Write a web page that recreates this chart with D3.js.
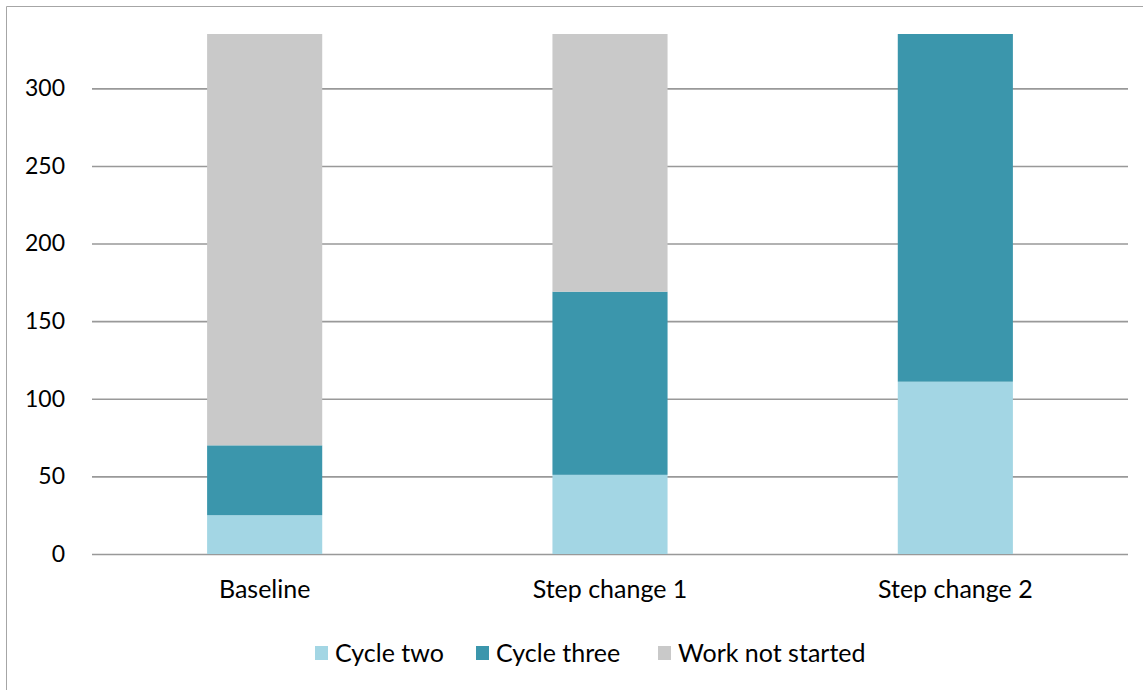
<!DOCTYPE html>
<html lang="en">
<head>
<meta charset="UTF-8">
<title>Cycle progress</title>
<script src="https://d3js.org/d3.v7.min.js"></script>
<style>
    body { margin: 0; padding: 0; background: #fff; }
    svg { display: block; }
    svg text { font-family: Lato, 'Open Sans', sans-serif; }
</style>
</head>
<body>
<div id="chart"></div>
<script>
    // data
    var categories = ["Baseline", "Step change 1", "Step change 2"];
    var seriesNames = ["Cycle two", "Cycle three", "Work not started"];
    var cycleTwo = [25, 51, 111];
    var cycleThree = [45, 118, 224];
    var workNotStarted = [265, 166, 0];
    var yTicks = [0, 50, 100, 150, 200, 250, 300];

    var colors = ["#a3d6e4", "#3b96ac", "#c9c9c9"];

    var width = 1143, height = 690;
    var plotLeft = 92, plotRight = 1128, plotTop = 34, plotBottom = 554;

    var rows = categories.map(function(c, i) {
        return { cat: c, "Cycle two": cycleTwo[i], "Cycle three": cycleThree[i], "Work not started": workNotStarted[i] };
    });
    var stacked = d3.stack().keys(seriesNames)(rows);

    var x = d3.scaleBand()
        .domain(categories)
        .range([plotLeft, plotRight])
        .paddingInner(2 / 3)
        .paddingOuter(1 / 3);

    var y = d3.scaleLinear()
        .domain([0, 335])
        .range([plotBottom, plotTop]);

    var svg = d3.select("#chart").append("svg")
        .attr("width", width)
        .attr("height", height);

    // frame (only left and top edges show in the picture)
    svg.append("path")
        .attr("d", "M6.5," + height + "V6.5H" + width)
        .attr("fill", "none")
        .attr("stroke", "#a6a6a6")
        .attr("stroke-width", 1);

    // gridlines + y labels
    var yAxis = svg.append("g")
        .attr("transform", "translate(" + plotLeft + ",0)")
        .call(d3.axisLeft(y).tickValues(yTicks).tickSize(-(plotRight - plotLeft)).tickPadding(27));
    yAxis.select(".domain").remove();
    yAxis.selectAll(".tick line").attr("stroke", "#999").attr("stroke-width", 1.6);
    yAxis.selectAll(".tick text")
        .attr("fill", "#000")
        .style("font-size", "23px");

    // bars
    svg.append("g").selectAll("g")
        .data(stacked)
        .enter().append("g")
        .attr("fill", function(d, i) { return colors[i]; })
        .selectAll("rect")
        .data(function(d) { return d; })
        .enter().append("rect")
        .attr("x", function(d) { return x(d.data.cat); })
        .attr("y", function(d) { return y(d[1]); })
        .attr("height", function(d) { return y(d[0]) - y(d[1]); })
        .attr("width", x.bandwidth());

    // x labels
    var xAxis = svg.append("g")
        .attr("transform", "translate(0," + plotBottom + ")")
        .call(d3.axisBottom(x).tickSize(0).tickPadding(26));
    xAxis.select(".domain").remove();
    xAxis.selectAll(".tick text")
        .attr("fill", "#000")
        .style("font-size", "25px");

    // legend
    var legendX = [315, 476, 658];
    var legend = svg.append("g").selectAll("g")
        .data(seriesNames)
        .enter().append("g")
        .attr("transform", function(d, i) { return "translate(" + legendX[i] + ",646)"; });

    legend.append("rect")
        .attr("width", 13).attr("height", 14)
        .attr("fill", function(d, i) { return colors[i]; });

    legend.append("text")
        .attr("x", 20)
        .attr("y", 7)
        .attr("dy", "0.35em")
        .style("font-size", "25px")
        .text(function(d) { return d; });
</script>
</body>
</html>
